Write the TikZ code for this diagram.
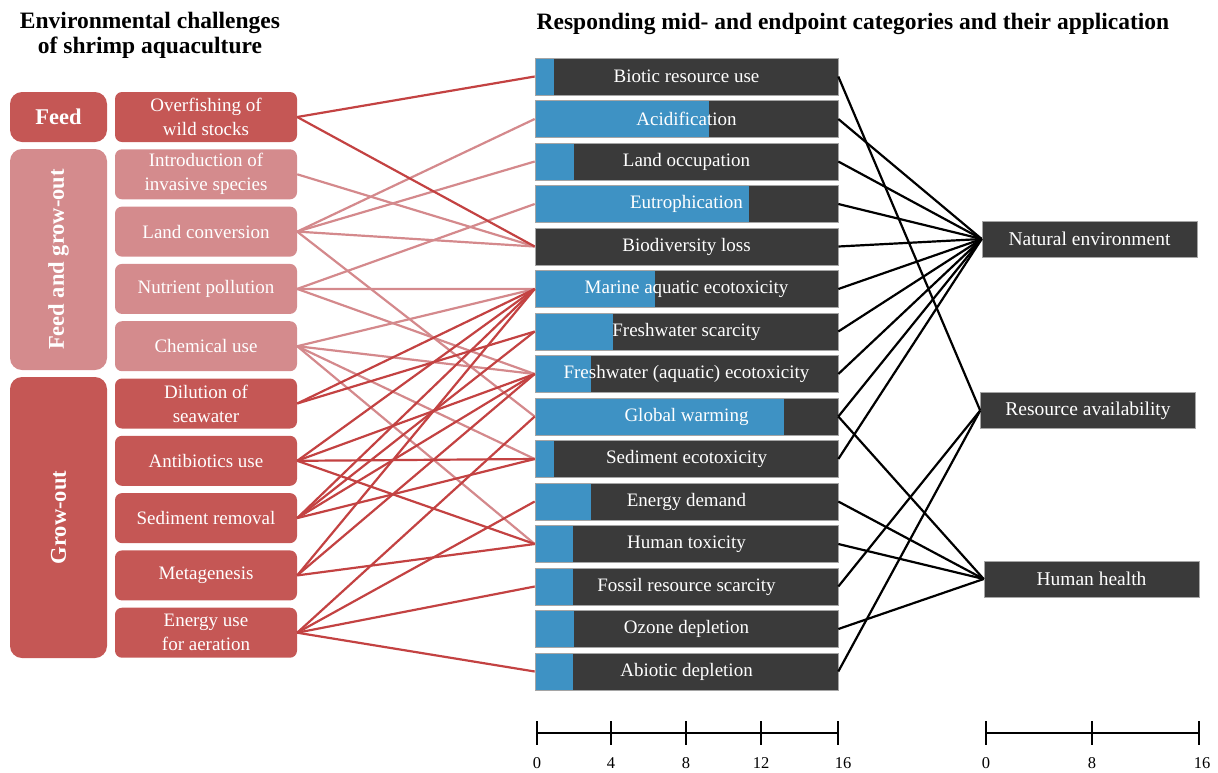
\documentclass[tikz,border=0pt]{standalone}
\usepackage{fontspec}
\setmainfont{Liberation Serif}
\usepackage{xcolor}
\usetikzlibrary{positioning}

\begin{document}
\begin{tikzpicture}[x=1pt,y=-1pt]
  \definecolor{feedred}{RGB}{197,87,85}
  \definecolor{fgopink}{RGB}{212,139,141}
  \definecolor{barblue}{RGB}{62,146,196}
  \definecolor{bardark}{RGB}{58,58,58}
  \definecolor{barrim}{RGB}{165,165,165}
  \definecolor{linered}{RGB}{195,66,66}
  \definecolor{linepink}{RGB}{212,137,140}
  \tikzset{
    catbox/.style={rounded corners=12pt,minimum height=97pt,text=white,inner sep=0pt,
      font=\fontsize{22.5}{22.5}\selectfont\bfseries},
    chbox/.style={rounded corners=7pt,minimum width=182pt,minimum height=50pt,text=white,
      align=center,inner sep=0pt,font=\fontsize{19}{24}\selectfont},
    midbar/.style={fill=bardark,draw=barrim,line width=0.6pt,minimum width=303pt,minimum height=37pt,
      inner sep=0pt,text=white,font=\fontsize{19}{19}\selectfont,
      path picture={\fill[barblue] (path picture bounding box.north west) rectangle
        ([xshift=#1pt]path picture bounding box.south west);}},
    endbox/.style={fill=bardark,draw=barrim,line width=0.6pt,minimum width=215pt,minimum height=36pt,
      inner sep=0pt,text=white,font=\fontsize{19.5}{19.5}\selectfont},
    redln/.style={linered,line width=2.2pt},
    pinkln/.style={linepink,line width=2.2pt},
    blkln/.style={black,line width=2.2pt},
    axisln/.style={black,line width=2.4pt},
    ticklab/.style={font=\fontsize{16.5}{16.5}\selectfont},
    ttl/.style={align=center,font=\fontsize{23.5}{25}\selectfont\bfseries}
  }
  \useasboundingbox (0,0) rectangle (1218,772);

  % titles
  \node[ttl] (ttlleft) at (150,35) {Environmental challenges\\of shrimp aquaculture};
  \node[ttl] (ttlright) at (853,24) {Responding mid- and endpoint categories and their application};

  % phases
  \node[catbox,fill=feedred,minimum width=97pt,minimum height=50pt] (feed) at (58.5,117) {Feed};
  \node[catbox,fill=fgopink,rotate=90,minimum width=221pt] (fgo) at (58.5,259.5) {Feed and grow-out};
  \node[catbox,fill=feedred,rotate=90,minimum width=281pt] (grow) at (58.5,517.5) {Grow-out};

  % challenges
  \node[chbox,fill=feedred] (over) at (206,117) {Overfishing of\\wild stocks};
  \node[chbox,fill=fgopink] (intro) at (206,174.3) {Introduction of\\invasive species};
  \node[chbox,fill=fgopink] (lconv) at (206,231.6) {Land conversion};
  \node[chbox,fill=fgopink] (nutr) at (206,288.9) {Nutrient pollution};
  \node[chbox,fill=fgopink] (chem) at (206,346.2) {Chemical use};
  \node[chbox,fill=feedred] (dil) at (206,403.5) {Dilution of\\seawater};
  \node[chbox,fill=feedred] (anti) at (206,460.8) {Antibiotics use};
  \node[chbox,fill=feedred] (sedr) at (206,518.1) {Sediment removal};
  \node[chbox,fill=feedred] (meta) at (206,575.4) {Metagenesis};
  \node[chbox,fill=feedred] (aer) at (206,632.7) {Energy use\\for aeration};

  % midpoint categories, blue part = share
  \node[midbar=19] (bio) at (686.5,76.5) {Biotic resource use};
  \node[midbar=174] (acid) at (686.5,119) {Acidification};
  \node[midbar=39] (lnd) at (686.5,161.5) {Land occupation};
  \node[midbar=214] (eut) at (686.5,204) {Eutrophication};
  \node[midbar=0] (bdl) at (686.5,246.5) {Biodiversity loss};
  \node[midbar=120] (mar) at (686.5,289) {Marine aquatic ecotoxicity};
  \node[midbar=78] (fws) at (686.5,331.5) {Freshwater scarcity};
  \node[midbar=56] (fwe) at (686.5,374) {Freshwater (aquatic) ecotoxicity};
  \node[midbar=249] (gw) at (686.5,416.5) {Global warming};
  \node[midbar=19] (sed) at (686.5,459) {Sediment ecotoxicity};
  \node[midbar=56] (ene) at (686.5,501.5) {Energy demand};
  \node[midbar=38] (hum) at (686.5,544) {Human toxicity};
  \node[midbar=38] (fos) at (686.5,586.5) {Fossil resource scarcity};
  \node[midbar=39] (ozo) at (686.5,629) {Ozone depletion};
  \node[midbar=38] (abi) at (686.5,671.5) {Abiotic depletion};

  % endpoints
  \node[endbox] (nat) at (1089.5,239) {Natural environment};
  \node[endbox] (res) at (1088,410.5) {Resource availability};
  \node[endbox] (hh) at (1091.5,579) {Human health};

  % feed and grow-out links
  \draw[pinkln] (intro.east) -- (bdl.west);
  \draw[pinkln] (lconv.east) -- (acid.west);
  \draw[pinkln] (lconv.east) -- (lnd.west);
  \draw[pinkln] (lconv.east) -- (bdl.west);
  \draw[pinkln] (lconv.east) -- (gw.west);
  \draw[pinkln] (nutr.east) -- (eut.west);
  \draw[pinkln] (nutr.east) -- (mar.west);
  \draw[pinkln] (nutr.east) -- (fwe.west);
  \draw[pinkln] (chem.east) -- (mar.west);
  \draw[pinkln] (chem.east) -- (fwe.west);
  \draw[pinkln] (chem.east) -- (sed.west);
  \draw[pinkln] (chem.east) -- (hum.west);

  % feed and grow-out only links
  \draw[redln] (over.east) -- (bio.west);
  \draw[redln] (over.east) -- (bdl.west);
  \draw[redln] (dil.east) -- (mar.west);
  \draw[redln] (dil.east) -- (fws.west);
  \draw[redln] (anti.east) -- (mar.west);
  \draw[redln] (anti.east) -- (fwe.west);
  \draw[redln] (anti.east) -- (sed.west);
  \draw[redln] (anti.east) -- (hum.west);
  \draw[redln] (sedr.east) -- (mar.west);
  \draw[redln] (sedr.east) -- (fws.west);
  \draw[redln] (sedr.east) -- (fwe.west);
  \draw[redln] (sedr.east) -- (sed.west);
  \draw[redln] (meta.east) -- (mar.west);
  \draw[redln] (meta.east) -- (fwe.west);
  \draw[redln] (meta.east) -- (hum.west);
  \draw[redln] (aer.east) -- (gw.west);
  \draw[redln] (aer.east) -- (ene.west);
  \draw[redln] (aer.east) -- (fos.west);
  \draw[redln] (aer.east) -- (abi.west);

  % midpoint to endpoint
  \draw[blkln] (bio.east) -- (res.west);
  \draw[blkln] (acid.east) -- (nat.west);
  \draw[blkln] (lnd.east) -- (nat.west);
  \draw[blkln] (eut.east) -- (nat.west);
  \draw[blkln] (bdl.east) -- (nat.west);
  \draw[blkln] (mar.east) -- (nat.west);
  \draw[blkln] (fws.east) -- (nat.west);
  \draw[blkln] (fwe.east) -- (nat.west);
  \draw[blkln] (gw.east) -- (nat.west);
  \draw[blkln] (gw.east) -- (hh.west);
  \draw[blkln] (sed.east) -- (nat.west);
  \draw[blkln] (ene.east) -- (hh.west);
  \draw[blkln] (hum.east) -- (hh.west);
  \draw[blkln] (fos.east) -- (res.west);
  \draw[blkln] (ozo.east) -- (hh.west);
  \draw[blkln] (abi.east) -- (res.west);

  % scales
  \draw[axisln] (537,733) -- (838,733);
  \draw[axisln] (537,721) -- (537,745);
  \draw[axisln] (611,721) -- (611,745);
  \draw[axisln] (686,721) -- (686,745);
  \draw[axisln] (761,721) -- (761,745);
  \draw[axisln] (838,721) -- (838,745);
  \node[ticklab] (la0) at (537,763) {0};
  \node[ticklab] (la4) at (611,763) {4};
  \node[ticklab] (la8) at (686,763) {8};
  \node[ticklab] (la12) at (761,763) {12};
  \node[ticklab] (la16) at (843,763) {16};
  \draw[axisln] (986,733) -- (1199,733);
  \draw[axisln] (986,721) -- (986,745);
  \draw[axisln] (1092,721) -- (1092,745);
  \draw[axisln] (1199,721) -- (1199,745);
  \node[ticklab] (lb0) at (986,763) {0};
  \node[ticklab] (lb8) at (1092,763) {8};
  \node[ticklab] (lb16) at (1202,763) {16};
\end{tikzpicture}
\end{document}
